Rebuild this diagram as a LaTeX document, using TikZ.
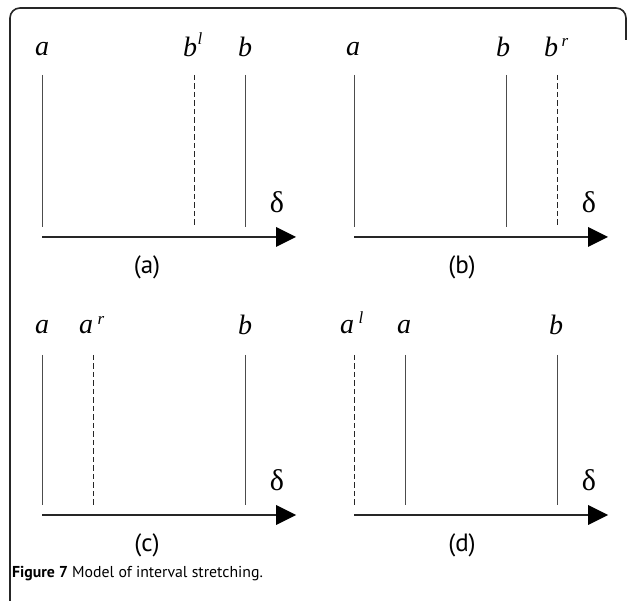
\documentclass[tikz,border=0pt]{standalone}
\usepackage{fontspec}
\setmainfont{Liberation Serif}
\newfontfamily\capfont{PT Sans}
\begin{document}
\begin{tikzpicture}[x=1pt,y=-1pt,
  vline/.style={draw=black!70,line width=0.9pt},
  dline/.style={draw=black!85,line width=0.9pt,dash pattern=on 5.5pt off 3pt},
  axis/.style={draw=black!85,line width=1.1pt},
  tri/.style={fill=black,draw=none},
  lab/.style={font=\fontsize{28}{30}\selectfont\itshape,inner sep=0pt},
  sup/.style={font=\fontsize{17}{17}\selectfont\itshape,inner sep=0pt},
  dlt/.style={font=\fontsize{30}{32}\selectfont,inner sep=0pt},
  plab/.style={font=\capfont\fontsize{25}{27}\selectfont,inner sep=0pt},
  captext/.style={font=\capfont\fontsize{15.8}{18}\selectfont,inner sep=0pt,anchor=west}]
\useasboundingbox (0,0) rectangle (627,601);
\begin{scope}
\clip (0,0) rectangle (627,601);
\draw[line width=1.6pt,draw=black!85,rounded corners=10pt] (10,610) -- (10,8) -- (626,8) -- (626,40);
\end{scope}
% ---- panel (a)
\node[lab] (aA) at (42,49) {a};
\node[lab] (aBl) at (190,47) {b};
\node[sup] (aBls) at (200,39) {l};
\node[lab] (aB) at (245,47) {b};
\coordinate (aAt) at (42,75); \coordinate (aAb) at (42,227);
\coordinate (aLt) at (194,75); \coordinate (aLb) at (194,227);
\coordinate (aBt) at (245,75); \coordinate (aBb) at (245,227);
\draw[vline] (aAt) -- (aAb);
\draw[dline] (aLt) -- (aLb);
\draw[vline] (aBt) -- (aBb);
\coordinate (aS) at (42,237); \coordinate (aE) at (277,237);
\draw[axis] (aS) -- (aE);
\fill[tri] (276,227) -- (296,237) -- (276,247) -- cycle;
\node[dlt] (aD) at (277,202) {δ};
\node[plab] (aP) at (147,267) {(a)};
% ---- panel (b)
\node[lab] (bA) at (353,49) {a};
\node[lab] (bB) at (503,47) {b};
\node[lab] (bBr) at (551,47) {b};
\node[sup] (bBrs) at (565,42) {r};
\coordinate (bAt) at (354,75); \coordinate (bAb) at (354,227);
\coordinate (bBt) at (506,75); \coordinate (bBb) at (506,227);
\coordinate (bRt) at (557,75); \coordinate (bRb) at (557,227);
\draw[vline] (bAt) -- (bAb);
\draw[vline] (bBt) -- (bBb);
\draw[dline] (bRt) -- (bRb);
\coordinate (bS) at (354,237); \coordinate (bE) at (589,237);
\draw[axis] (bS) -- (bE);
\fill[tri] (588,227) -- (608,237) -- (588,247) -- cycle;
\node[dlt] (bD) at (589,202) {δ};
\node[plab] (bP) at (462,267) {(b)};
% ---- panel (c)
\node[lab] (cA) at (42,327) {a};
\node[lab] (cAr) at (86,327) {a};
\node[sup] (cArs) at (101,320) {r};
\node[lab] (cB) at (245,325) {b};
\coordinate (cAt) at (42,355); \coordinate (cAb) at (42,505);
\coordinate (cRt) at (93,355); \coordinate (cRb) at (93,505);
\coordinate (cBt) at (245,355); \coordinate (cBb) at (245,505);
\draw[vline] (cAt) -- (cAb);
\draw[dline] (cRt) -- (cRb);
\draw[vline] (cBt) -- (cBb);
\coordinate (cS) at (42,515); \coordinate (cE) at (277,515);
\draw[axis] (cS) -- (cE);
\fill[tri] (276,505) -- (296,515) -- (276,525) -- cycle;
\node[dlt] (cD) at (277,480) {δ};
\node[plab] (cP) at (147,545) {(c)};
% ---- panel (d)
\node[lab] (dAl) at (347,327) {a};
\node[sup] (dAls) at (361,318) {l};
\node[lab] (dA) at (404,327) {a};
\node[lab] (dB) at (556,325) {b};
\coordinate (dLt) at (354,355); \coordinate (dLb) at (354,505);
\coordinate (dAt) at (405,355); \coordinate (dAb) at (405,505);
\coordinate (dBt) at (557,355); \coordinate (dBb) at (557,505);
\draw[dline] (dLt) -- (dLb);
\draw[vline] (dAt) -- (dAb);
\draw[vline] (dBt) -- (dBb);
\coordinate (dS) at (354,515); \coordinate (dE) at (589,515);
\draw[axis] (dS) -- (dE);
\fill[tri] (588,505) -- (608,515) -- (588,525) -- cycle;
\node[dlt] (dD) at (589,480) {δ};
\node[plab] (dP) at (462,545) {(d)};
% ---- caption
\node[captext] (capt) at (12,574) {\textbf{Figure 7} Model of interval stretching.};
\end{tikzpicture}
\end{document}
